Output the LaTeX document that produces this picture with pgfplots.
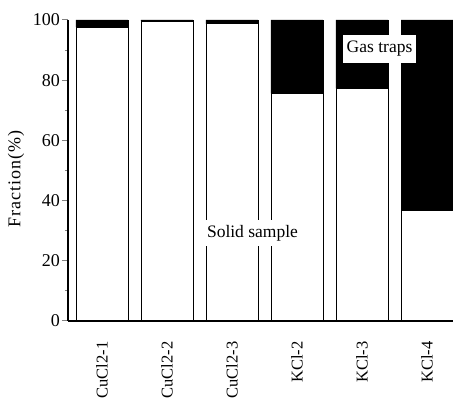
\documentclass[border=0pt]{standalone}
\usepackage{pgfplots}
\pgfplotsset{compat=1.18}
\usepackage{fontspec}
\setmainfont{Liberation Serif}
\begin{document}
\begin{tikzpicture}
\useasboundingbox (-68pt,-83pt) rectangle (385pt,321pt);
\begin{axis}[
  scale only axis, width=385pt, height=301pt,
  axis on top,
  ybar stacked, bar width=0.8,
  xmin=-0.523, xmax=5.4, ymin=0, ymax=100,
  axis x line=bottom, axis y line=left,
  axis line style={-, line width=1.4pt},
  xtick={0,1,2,3,4,5},
  xticklabels={CuCl2-1,CuCl2-2,CuCl2-3,KCl-2,KCl-3,KCl-4},
  xtick style={draw=none},
  xticklabel style={rotate=90, anchor=east, font=\fontsize{16.5}{18}\selectfont},
  xticklabel shift=11pt,
  ytick={0,20,40,60,80,100},
  minor y tick num=1,
  tick align=outside,
  major tick length=6pt, minor tick length=3pt,
  ytick style={line width=1pt},
  yticklabel style={font=\fontsize{18}{20}\selectfont, inner xsep=2pt},
  /pgf/number format/assume math mode=true,
]
\addplot[fill=white, draw=black, line width=0.9pt] coordinates {(0,97.6) (1,99.6) (2,98.7) (3,75.6) (4,77.3) (5,36.6)};
\addplot[fill=black, draw=black, line width=0.9pt] coordinates {(0,2.4) (1,0.4) (2,1.3) (3,24.4) (4,22.7) (5,63.4)};
\coordinate (S) at (axis cs:2.315,29.2);
\coordinate (G) at (axis cs:4.27,90.4);
\end{axis}
\node[rotate=90, font=\fontsize{18}{20}\selectfont\addfontfeature{LetterSpace=6}] at (-52pt,142pt) {Fraction(\%)};
\node[fill=white, inner xsep=2pt, inner ysep=5pt, font=\fontsize{17.5}{18}\selectfont] at (S) {Solid sample};
\node[fill=white, inner xsep=4pt, inner ysep=6pt, font=\fontsize{17.5}{18}\selectfont] at (G) {Gas traps};
\end{tikzpicture}
\end{document}
